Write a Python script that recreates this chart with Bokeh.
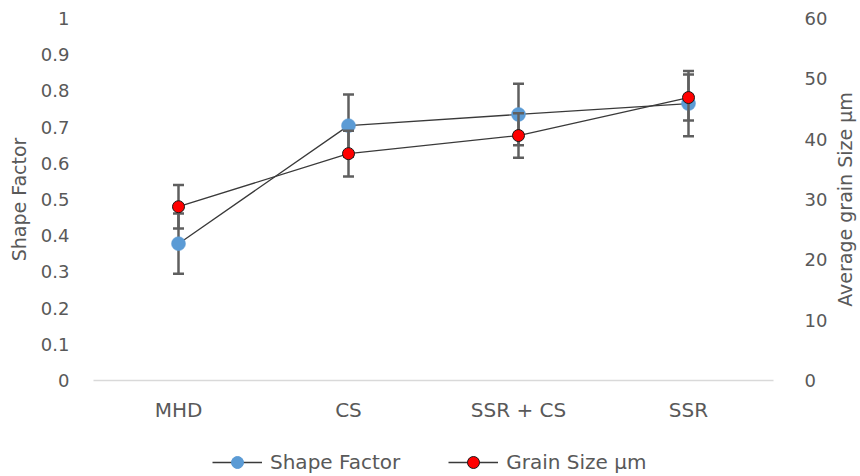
from bokeh.plotting import figure
from bokeh.layouts import column, row
from bokeh.models import FactorRange, Range1d, LinearAxis, FixedTicker, Legend, LegendItem
from bokeh.embed import file_html
from bokeh.resources import INLINE

# ---- data ----
categories = ["MHD", "CS", "SSR + CS", "SSR"]
shape_factor = [0.378, 0.704, 0.735, 0.765]
shape_err = [0.083, 0.086, 0.085, 0.090]
grain_size = [28.8, 37.6, 40.6, 46.9]
grain_err = [3.6, 3.8, 3.7, 3.8]
series_names = ["Shape Factor", "Grain Size µm"]

left_ticks = [0, 0.1, 0.2, 0.3, 0.4, 0.5, 0.6, 0.7, 0.8, 0.9, 1]
left_tick_labels = ["0", "0.1", "0.2", "0.3", "0.4", "0.5", "0.6", "0.7", "0.8", "0.9", "1"]
right_ticks = [0, 10, 20, 30, 40, 50, 60]

TXT = "#595959"
FONT = "DejaVu Sans"
BLUE = "#5B9BD5"
RED = "#FF0000"
LINE = "#3a3a3a"
ERR = "#5f5f5f"

p = figure(x_range=FactorRange(*categories), y_range=Range1d(0, 1),
           width=830, height=440, output_backend="svg", toolbar_location=None,
           min_border_left=93, min_border_right=55, min_border_top=18, min_border_bottom=60)
p.extra_y_ranges = {"grain": Range1d(0, 60)}
p.outline_line_color = None
p.xgrid.grid_line_color = None
p.ygrid.grid_line_color = None

# left axis
ly = p.yaxis[0]
ly.ticker = FixedTicker(ticks=left_ticks)
ly.major_label_overrides = {t: s for t, s in zip(left_ticks, left_tick_labels)}
ly.axis_label = "Shape Factor"
ly.axis_line_color = None
ly.major_tick_line_color = None
ly.minor_tick_line_color = None
ly.major_label_standoff = 18
ly.axis_label_standoff = 8
ly.major_label_text_font_size = "18px"
ly.major_label_text_color = TXT
ly.major_label_text_font = FONT
ly.axis_label_text_font_size = "19px"
ly.axis_label_text_font_style = "normal"
ly.axis_label_text_color = TXT
ly.axis_label_text_font = FONT

# right axis (tick labels only; its title is in the narrow strip at the right)
ry = LinearAxis(y_range_name="grain", ticker=FixedTicker(ticks=right_ticks))
ry.axis_line_color = None
ry.major_tick_line_color = None
ry.minor_tick_line_color = None
ry.major_label_standoff = 25
ry.major_label_text_font_size = "18px"
ry.major_label_text_color = TXT
ry.major_label_text_font = FONT
p.add_layout(ry, "right")

# x axis
ax = p.xaxis[0]
ax.axis_line_color = "#D9D9D9"
ax.axis_line_width = 1.5
ax.major_tick_line_color = None
ax.minor_tick_line_color = None
ax.major_label_standoff = 11
ax.major_label_text_font_size = "20px"
ax.major_label_text_color = TXT
ax.major_label_text_font = FONT

# Shape factor series
sf_lo = [v - e for v, e in zip(shape_factor, shape_err)]
sf_hi = [v + e for v, e in zip(shape_factor, shape_err)]
p.line(categories, shape_factor, line_color=LINE, line_width=1.3)
p.segment(x0=categories, y0=sf_lo, x1=categories, y1=sf_hi, line_color=ERR, line_width=2.5)
p.scatter(categories, sf_lo, marker="dash", size=11, line_color=ERR, line_width=2.5)
p.scatter(categories, sf_hi, marker="dash", size=11, line_color=ERR, line_width=2.5)
p.scatter(categories, shape_factor, size=14, fill_color=BLUE, line_color=BLUE, line_width=0.5)

# Grain size series
gs_lo = [v - e for v, e in zip(grain_size, grain_err)]
gs_hi = [v + e for v, e in zip(grain_size, grain_err)]
p.line(categories, grain_size, line_color=LINE, line_width=1.3, y_range_name="grain")
p.segment(x0=categories, y0=gs_lo, x1=categories, y1=gs_hi, line_color=ERR, line_width=2.5,
          y_range_name="grain")
p.scatter(categories, gs_lo, marker="dash", size=11, line_color=ERR, line_width=2.5, y_range_name="grain")
p.scatter(categories, gs_hi, marker="dash", size=11, line_color=ERR, line_width=2.5, y_range_name="grain")
p.scatter(categories, grain_size, size=12, fill_color=RED, line_color="#1a1a1a", line_width=1,
          y_range_name="grain")

# narrow strip carrying the right-hand axis title (reads bottom to top)
rt = figure(width=30, height=440, output_backend="svg", toolbar_location=None,
            x_axis_type=None, x_range=Range1d(0, 1), y_range=Range1d(0, 60),
            min_border_left=26, min_border_right=0, min_border_top=18, min_border_bottom=60)
rt.outline_line_color = None
rt.xgrid.grid_line_color = None
rt.ygrid.grid_line_color = None
ta = rt.yaxis[0]
ta.ticker = FixedTicker(ticks=[])
ta.axis_label = "Average grain Size µm"
ta.axis_line_color = None
ta.major_tick_line_color = None
ta.minor_tick_line_color = None
ta.major_label_standoff = 0
ta.axis_label_standoff = 2
ta.axis_label_text_font_size = "19px"
ta.axis_label_text_font_style = "normal"
ta.axis_label_text_color = TXT
ta.axis_label_text_font = FONT

# legend strip (separate figure under the chart); proxy glyphs lie outside its ranges
lg = figure(width=860, height=36, output_backend="svg", toolbar_location=None,
            x_axis_type=None, y_axis_type=None,
            min_border_left=93, min_border_right=85, min_border_top=0, min_border_bottom=0,
            x_range=Range1d(0, 1), y_range=Range1d(0, 1))
lg.outline_line_color = None
lg.xgrid.grid_line_color = None
lg.ygrid.grid_line_color = None
off = [-5]
la = lg.line(x=off, y=off, line_color=LINE, line_width=1.3)
ma = lg.scatter(x=off, y=off, size=14, fill_color=BLUE, line_color=BLUE)
lb = lg.line(x=off, y=off, line_color=LINE, line_width=1.3)
mb = lg.scatter(x=off, y=off, size=12, fill_color=RED, line_color="#1a1a1a", line_width=1)

legend = Legend(items=[LegendItem(label=series_names[0], renderers=[la, ma]),
                       LegendItem(label=series_names[1], renderers=[lb, mb])],
                orientation="horizontal", location=(119, -1),
                border_line_color=None, background_fill_alpha=0,
                padding=0, margin=0, spacing=48, glyph_width=50, glyph_height=30,
                label_standoff=8, label_height=20,
                label_text_font_size="20px", label_text_color=TXT, label_text_font=FONT)
lg.add_layout(legend)

open("out.html", "w").write(file_html(column(row(p, rt), lg), INLINE))
